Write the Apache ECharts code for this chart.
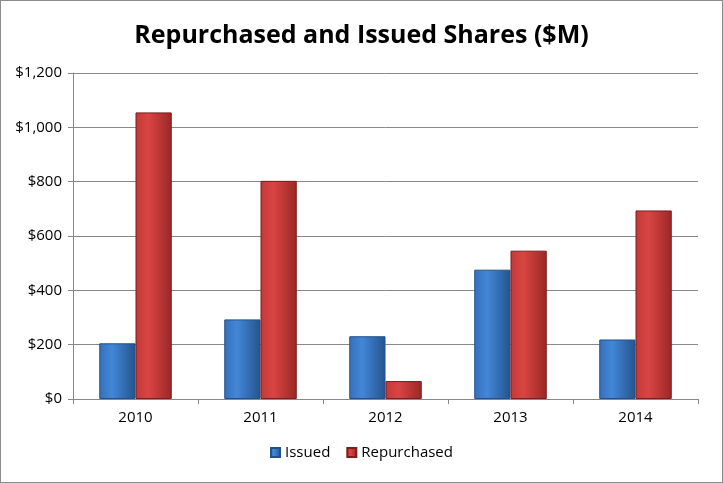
<!DOCTYPE html>
<html>
<head>
<meta charset="utf-8">
<script src="https://cdn.jsdelivr.net/npm/echarts@6/dist/echarts.min.js"></script>
<style>
  html, body { margin: 0; padding: 0; background: #fff; }
  #main { width: 723px; height: 483px; box-sizing: border-box; border: 1px solid #8c8c8c; }
</style>
</head>
<body>
<div id="main"></div>
<script>
const years = ['2010', '2011', '2012', '2013', '2014'];
const issued = [205, 293, 231, 476, 219];
const repurchased = [1055, 803, 66, 546, 694];
const yTicks = { min: 0, max: 1200, interval: 200 };

const font = 'Open Sans, Noto Sans, sans-serif';

function grad(edge, light, dark){
  return new echarts.graphic.LinearGradient(0, 0, 1, 0, [
    { offset: 0, color: edge },
    { offset: 0.35, color: light },
    { offset: 1, color: dark }
  ]);
}

const chart = echarts.init(document.getElementById('main'), null, { renderer: 'canvas' });
chart.setOption({
  animation: false,
  title: {
    text: 'Repurchased and Issued Shares ($M)',
    left: 'center', top: 17,
    textStyle: { fontFamily: font, fontSize: 25, fontWeight: 'bold', color: '#000' }
  },
  grid: { left: 72, right: 24, top: 72, bottom: 83 },
  legend: {
    bottom: 17, left: 'center',
    itemWidth: 9, itemHeight: 9, itemGap: 16,
    icon: 'rect',
    textStyle: { fontFamily: font, fontSize: 15, color: '#000' },
    data: ['Issued', 'Repurchased']
  },
  xAxis: {
    type: 'category', data: years,
    axisLine: { lineStyle: { color: '#888' } },
    axisTick: { show: true, alignWithLabel: false, length: 5, lineStyle: { color: '#888' } },
    axisLabel: { fontFamily: font, fontSize: 15, color: '#000', margin: 11 }
  },
  yAxis: {
    type: 'value', min: yTicks.min, max: yTicks.max, interval: yTicks.interval,
    axisLine: { show: true, lineStyle: { color: '#888' } },
    axisTick: { show: true, length: 5, lineStyle: { color: '#888' } },
    splitLine: { lineStyle: { color: '#888' } },
    axisLabel: {
      fontFamily: font, fontSize: 15, color: '#000', margin: 11,
      formatter: v => '$' + v.toLocaleString('en-US')
    }
  },
  series: [
    {
      name: 'Issued', type: 'bar', data: issued,
      barGap: 0, barCategoryGap: '42%',
      itemStyle: { color: grad('#3670b8', '#4287d8', '#24548c'), borderColor: '#23508a', borderWidth: 1 }
    },
    {
      name: 'Repurchased', type: 'bar', data: repurchased,
      itemStyle: { color: grad('#c03a37', '#d94543', '#992826'), borderColor: '#7c1c1c', borderWidth: 1 }
    }
  ]
});
</script>
</body>
</html>
